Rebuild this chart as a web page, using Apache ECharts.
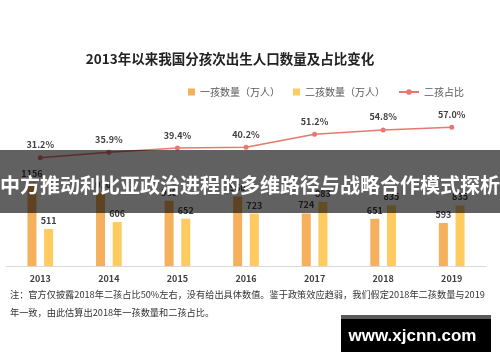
<!DOCTYPE html>
<html><head><meta charset="utf-8">
<script src="https://cdn.jsdelivr.net/npm/echarts@6/dist/echarts.min.js"></script>
<style>html,body{margin:0;padding:0;background:#fff;}#c{width:500px;height:362px;}</style>
</head><body><div id="c"></div>
<script>
const years = ['2013','2014','2015','2016','2017','2018','2019'];
const firstChild = [1156, 1010, 900, 960, 724, 651, 593];
const secondChild = [511, 606, 652, 723, 883, 835, 835];
const secondShare = [31.2, 35.9, 39.4, 40.2, 51.2, 54.8, 57.0];
const seriesNames = ['一孩数量（万人）', '二孩数量（万人）', '二孩占比'];
const titleText = '2013年以来我国分孩次出生人口数量及占比变化';
const bannerText = '中方推动利比亚政治进程的多维路径与战略合作模式探析';
const noteLine1 = '注：官方仅披露2018年二孩占比50%左右，没有给出具体数值。鉴于政策效应趋弱，我们假定2018年二孩数量与2019';
const noteLine2 = '年一致，由此估算出2018年一孩数量和二孩占比。';
const watermark = 'www.xjcnn.com';

const FONT = '"Noto Sans CJK SC", "Noto Sans", sans-serif';
const chart = echarts.init(document.getElementById('c'), null, {renderer: 'canvas'});
const lblStyle = {show: true, position: 'top', distance: 4, fontSize: 9, fontWeight: 'bold', color: '#404040', fontFamily: FONT};
const legendText = {fontSize: 10, color: '#595959', fontFamily: FONT};
chart.setOption({
  animation: false,
  backgroundColor: '#fff',
  grid: {left: 6, right: 14, top: 121, bottom: 96, containLabel: false},
  legend: [
    {data: [seriesNames[0]], left: 183, top: 82, itemWidth: 7, itemHeight: 7, icon: 'rect', textStyle: legendText, itemGap: 0},
    {data: [seriesNames[1]], left: 288, top: 82, itemWidth: 7, itemHeight: 7, icon: 'rect', textStyle: legendText, itemGap: 0},
    {data: [seriesNames[2]], left: 393, top: 82, itemWidth: 20, itemHeight: 7, textStyle: legendText, itemGap: 0}
  ],
  xAxis: {
    type: 'category', data: years,
    axisLine: {show: true, lineStyle: {color: '#d9d9d9', width: 1}},
    axisTick: {show: false},
    axisLabel: {fontSize: 9, fontWeight: 'bold', color: '#404040', margin: 8, fontFamily: FONT}
  },
  yAxis: [
    {type: 'value', min: 0, max: 2000, show: false, splitLine: {show: false}},
    {type: 'value', min: -60.7, max: 62.4, show: false, splitLine: {show: false}}
  ],
  series: [
    {name: seriesNames[0], type: 'bar', data: firstChild, barWidth: 9, barGap: '85%',
     itemStyle: {color: '#F5B05B'}, label: lblStyle},
    {name: seriesNames[1], type: 'bar', data: secondChild, barWidth: 9,
     itemStyle: {color: '#FDCB5F'}, label: lblStyle},
    {name: seriesNames[2], type: 'line', yAxisIndex: 1, data: secondShare,
     symbol: 'circle', symbolSize: 5, lineStyle: {color: '#E8786F', width: 1.5},
     itemStyle: {color: '#E8786F'},
     label: Object.assign({}, lblStyle, {distance: 6, formatter: p => p.value.toFixed(1) + '%'})}
  ],
  graphic: [
    {type: 'text', z: 10, style: {text: titleText, x: 230, y: 59, textAlign: 'center', textVerticalAlign: 'middle',
      fontSize: 13.5, fontWeight: 'bold', fill: '#222', fontFamily: FONT}},
    {type: 'rect', z: 100, shape: {x: 0, y: 150, width: 500, height: 63}, style: {fill: 'rgba(0,0,0,0.62)'}},
    {type: 'text', z: 101, style: {text: bannerText, x: 250, y: 185, textAlign: 'center', textVerticalAlign: 'middle',
      fontSize: 20, fontWeight: 'bold', fill: '#fff', fontFamily: FONT}},
    {type: 'text', z: 10, style: {text: noteLine1, x: 10, y: 295, textVerticalAlign: 'middle',
      fontSize: 9.2, fill: '#333', fontFamily: FONT}},
    {type: 'text', z: 10, style: {text: noteLine2, x: 10, y: 313, textVerticalAlign: 'middle',
      fontSize: 9.2, fill: '#333', fontFamily: FONT}},
    {type: 'rect', z: 100, shape: {x: 341, y: 315, width: 150, height: 37}, style: {fill: '#000'}},
    {type: 'rect', z: 100, shape: {x: 341, y: 315, width: 150, height: 4}, style: {fill: '#5a5a5a'}},
    {type: 'text', z: 101, style: {text: watermark, x: 412.5, y: 336, textAlign: 'center', textVerticalAlign: 'middle',
      fontSize: 17, fontWeight: 'bold', fill: '#fff', fontFamily: '"Liberation Sans", Arial, sans-serif'}}
  ]
});
</script></body></html>
